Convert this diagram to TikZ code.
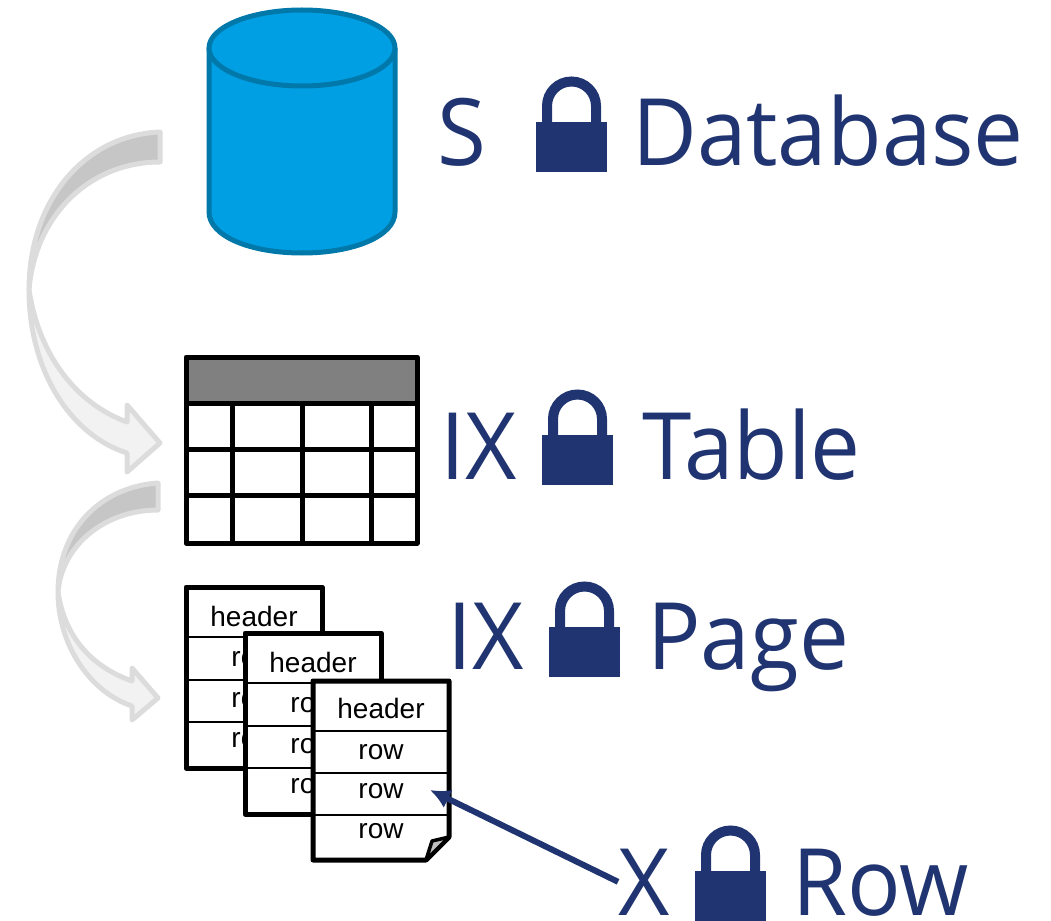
\documentclass[tikz,border=0pt]{standalone}
\usepackage{fontspec}
\setmainfont[FakeStretch=0.957]{Open Sans}
\newfontfamily\rowfont{Liberation Sans}
\usetikzlibrary{arrows.meta}
\definecolor{lockblue}{HTML}{1F3470}
\definecolor{dbfill}{HTML}{009FE3}
\definecolor{dbline}{HTML}{0078AA}
\definecolor{arrowline}{HTML}{DCDCDC}
\tikzset{
	lbl/.style={anchor=base west,inner sep=0pt,text=lockblue,font=\fontsize{93}{93}\selectfont},
	celltxt/.style={inner sep=0pt,font=\rowfont\fontsize{28}{28}\selectfont},
	thick line/.style={line width=5pt,line join=round},
	arrow dark/.style={fill=gray!45,draw=arrowline,line width=5pt,line join=round},
	arrow light/.style={fill=black!5,draw=arrowline,line width=5pt,line join=round},
}
\begin{document}
\begin{tikzpicture}[x=1pt,y=-1pt]
		\useasboundingbox (0,0) rectangle (1051,920);
		\coordinate (dbl) at (209,48); %database
		\coordinate (dbr) at (395,48);
		\filldraw[fill=dbfill,draw=dbline,line width=5pt] (dbl) -- (209,212) .. controls (209,236) and (250,253) .. (302,253) .. controls (354,253) and (395,236) .. (395,212) -- (dbr);
		\filldraw[fill=dbfill,draw=dbline,line width=5pt] (302,48) ellipse [x radius=93,y radius=38];
		%curved arrows
		\filldraw[arrow dark] (160,132) .. controls (85,135) and (29,200) .. (29,290) .. controls (35,215) and (90,162) .. (160,162) -- cycle;
		\filldraw[arrow light] (29,290) .. controls (29,370) and (70,435) .. (127,453) -- (127,472) -- (160,443) -- (127,405) -- (127,422) .. controls (80,405) and (40,360) .. (29,290) -- cycle;
		\filldraw[arrow dark] (158,483) .. controls (100,487) and (58,530) .. (58,592) .. controls (62,545) and (105,510) .. (158,510) -- cycle;
		\filldraw[arrow light] (58,592) .. controls (58,645) and (90,692) .. (132,706) -- (132,720) -- (158,698) -- (132,668) -- (132,681) .. controls (95,668) and (65,640) .. (58,592) -- cycle;
		%table
		\filldraw[fill=gray,thick line] (186,357) rectangle (417,403);
		\draw[thick line] (186,403) rectangle (417,543);
		\foreach \y in {449,495}{
			\draw[thick line] (186,\y) -- (417,\y);
		}
		\foreach \x in {232,302,371}{
			\draw[thick line] (\x,403) -- (\x,543);
		}
		%pages
		\foreach \px/\py/\nm in {186/587/a,245/633/b}{
			\filldraw[fill=white,thick line] (\px,\py) rectangle ++(136,181);
			\foreach \d in {50,93,135}{
				\draw[line width=1.5pt] (\px,\py+\d) -- ++(136,0);
			}
			\node[celltxt] (head\nm) at (\px+68,\py+29) {header};
			\foreach \d/\i in {72/1,113/2,153/3}{
				\node[celltxt] (row\nm\i) at (\px+68,\py+\d) {row};
			}
		}
		\filldraw[fill=white,thick line] (313,681) -- (449,681) -- (449,837) -- (426,860) -- (313,860) -- cycle;
		\foreach \d in {50,92,134}{
			\draw[line width=1.5pt] (313,681+\d) -- (449,681+\d);
		}
		\node[celltxt] (headc) at (381,708) {header};
		\foreach \y/\i in {752/1,791/2,831/3}{
			\node[celltxt] (rowc\i) at (381,\y) {row};
		}
		\filldraw[fill=lightgray,line width=3.5pt,line join=round] (449,837) -- (432,841) -- (426,860) -- cycle; %corner
		%locks
		\foreach \lx/\ly in {536/172,542/485,549/677,695/921}{
			\fill[lockblue] (\lx,\ly) rectangle ++(71,-50);
			\draw[lockblue,line width=10pt] (\lx+11,\ly-50) -- ++(0,-16) arc[start angle=180,end angle=360,radius=24.5] -- ++(0,16);
		}
		%labels
		\node[lbl] (ltype1) at (437,166) {S};
		\node[lbl] (lname1) at (632,166) {Database};
		\node[lbl] (ltype2) at (440,479) {IX};
		\node[lbl] (lname2) at (642,479) {Table};
		\node[lbl] (ltype3) at (447,669) {IX};
		\node[lbl] (lname3) at (647,669) {Page};
		\node[lbl] (ltype4) at (618,915) {X};
		\node[lbl] (lname4) at (792,915) {Row};
		\coordinate (rowtip) at (430,790);
		\draw[lockblue,line width=6pt,-{Latex[length=20pt,width=20pt]}] (ltype4.west) -- (rowtip);
	\end{tikzpicture}
\end{document}
